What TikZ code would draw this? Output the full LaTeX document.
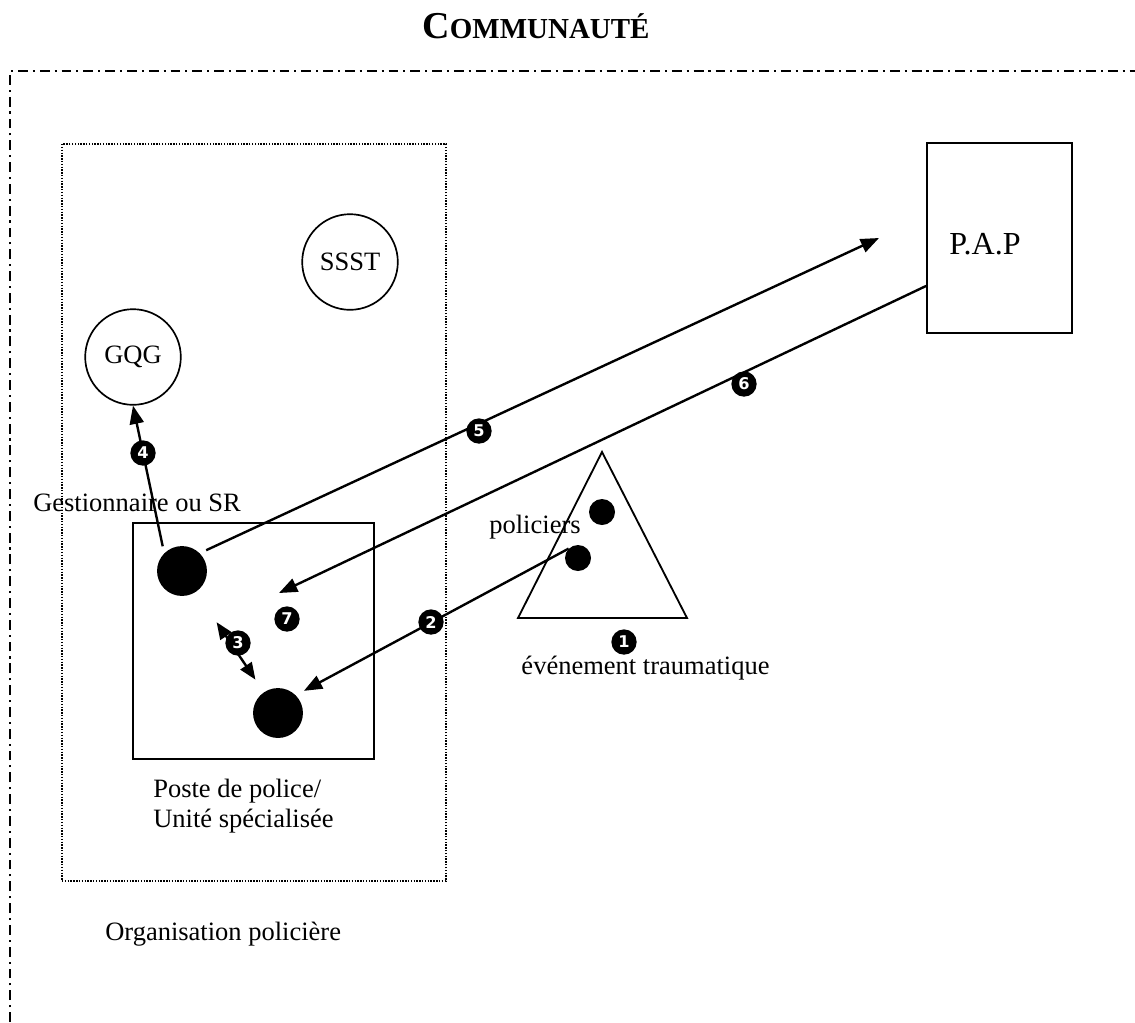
\documentclass[tikz,border=0pt]{standalone}
\usepackage{fontspec}
\setmainfont{Liberation Serif}
\newfontfamily\numfont{DejaVu Sans}
\usetikzlibrary{arrows.meta, positioning, calc}

\begin{document}
\begin{tikzpicture}[
  x=0.025cm, y=-0.025cm,
  txt/.style={font=\fontsize{18.85}{21.5}\selectfont, inner sep=0pt},
  ring/.style={draw, circle, line width=1.2pt, minimum size=68pt, inner sep=0pt, font=\fontsize{18.85}{21.5}\selectfont},
  box/.style={draw, line width=1.3pt, inner sep=0pt},
  orgbox/.style={draw, line width=1pt, dash pattern=on 1pt off 1pt, inner sep=0pt, minimum width=273pt, minimum height=524pt},
  bigdot/.style={circle, fill=black, minimum size=35.5pt, inner sep=0pt},
  smalldot/.style={circle, fill=black, minimum size=18.5pt, inner sep=0pt},
  num/.style={circle, fill=black, text=white, minimum size=18pt, inner sep=0pt, font=\numfont\bfseries\fontsize{11.5}{11.5}\selectfont},
  arr/.style={-{Triangle[length=13pt, width=10pt]}, line width=1.7pt},
  dbl/.style={{Triangle[length=12pt, width=9.5pt]}-{Triangle[length=12pt, width=9.5pt]}, line width=1.7pt},
  frame/.style={line width=2pt, dash pattern=on 7pt off 3.5pt on 1.5pt off 3.5pt}
]
  \useasboundingbox (0,0) rectangle (1135,1022);

  % Community frame and title
  \node[font=\bfseries, inner sep=0pt, anchor=base] (title) at (536,38)
    {{\fontsize{27}{27}\selectfont C}{\fontsize{20.6}{22}\selectfont OMMUNAUTÉ}};
  \draw[frame] (10,1022) -- (10,71) -- (1135,71);

  % Police organisation
  \node[orgbox] (org) at (254,512.5) {};
  \node[txt, anchor=base west] (orglbl) at (105,940) {Organisation policière};
  \node[ring] (ssst) at (350,262) {SSST};
  \node[ring] (gqg) at (133,357) {GQG};

  % Police station
  \node[box, minimum width=171.4pt, minimum height=167.9pt] (poste) at (253.5,641) {};
  \node[bigdot] (gsr) at (182,571) {};
  \node[bigdot] (unit) at (278,713) {};
  \node[txt, anchor=base west] (gsrlbl) at (33,511) {Gestionnaire ou SR};
  \node[txt, anchor=north west, align=left] (postelbl) at (153,779) {Poste de police/\\Unité spécialisée};

  % P.A.P
  \node[box, minimum width=103.1pt, minimum height=135.1pt] (pap) at (999.5,238) {};
  \node[inner sep=0pt, anchor=base, font=\fontsize{22.8}{24}\selectfont] (paplbl) at (985,254) {P.A.P};

  % Traumatic event
  \coordinate (tA) at (602,452);
  \coordinate (tB) at (687,618);
  \coordinate (tC) at (518,618);
  \draw[line width=1.3pt] (tA) -- (tB) -- (tC) -- cycle;
  \node[smalldot] (pol1) at (602,512) {};
  \node[smalldot] (pol2) at (578,558) {};
  \node[txt, anchor=base] (pollbl) at (535,533) {policiers};
  \node[txt, anchor=base] (evtlbl) at (645.5,674) {événement traumatique};

  % Connectors
  \coordinate (t5) at (879,238);
  \coordinate (s6) at ($(pap.south west)!0.25!(pap.north west)$);
  \coordinate (t6) at (279,593);
  \draw[arr, shorten <=5pt] (gsr.135) -- (gqg.south);
  \draw[arr, shorten <=5pt] (gsr.45) -- (t5);
  \draw[arr] (s6) -- (t6);
  \draw[arr, shorten >=6.5pt] (pol2.north west) -- (unit.north east);
  \draw[dbl, shorten <=26pt, shorten >=10.7pt] (gsr) -- (unit);

  % Step numbers
  \node[num] (n1) at (624,642) {1};
  \node[num] (n2) at (431,622) {2};
  \node[num] (n3) at (238,643) {3};
  \node[num] (n4) at (143,453) {4};
  \node[num] (n5) at (479,431) {5};
  \node[num] (n6) at (744,384) {6};
  \node[num] (n7) at (287,619) {7};

\end{tikzpicture}
\end{document}
